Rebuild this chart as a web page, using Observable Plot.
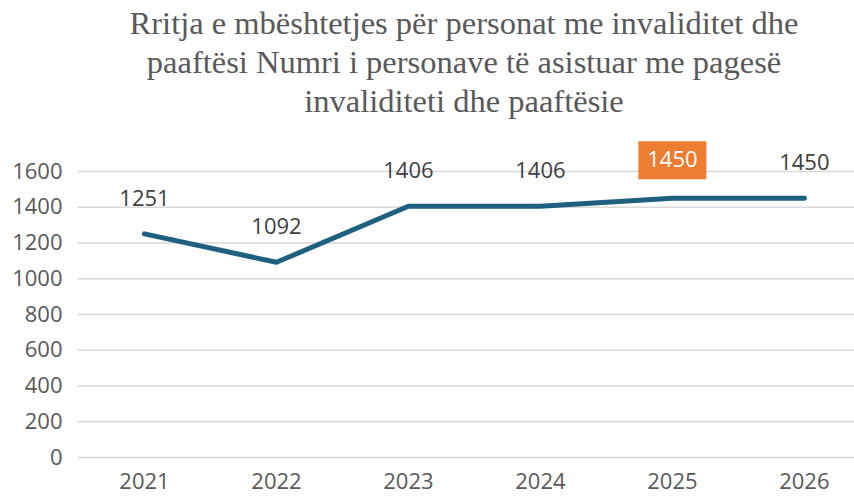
<!DOCTYPE html>
<html><head><meta charset="utf-8">
<script src="https://cdn.jsdelivr.net/npm/d3@7"></script>
<script src="https://cdn.jsdelivr.net/npm/@observablehq/plot@0.6"></script>
<style>
html,body{margin:0;padding:0;background:#fff;}
#title{position:absolute;left:76px;width:776px;top:4px;text-align:center;font-family:"Liberation Serif",serif;font-size:32.5px;line-height:39px;color:#595959;}
#chart{position:absolute;left:0;top:130px;}
</style></head>
<body>
<div id="title">Rritja e mbështetjes për personat me invaliditet dhe<br>paaftësi Numri i personave të asistuar me pagesë<br>invaliditeti dhe paaftësie</div>
<div id="chart"></div>
<script>
const years = [2021, 2022, 2023, 2024, 2025, 2026];
const values = [1251, 1092, 1406, 1406, 1450, 1450];
const yTicks = [0, 200, 400, 600, 800, 1000, 1200, 1400, 1600];
const highlightYear = 2025;

const data = years.map((y, i) => ({year: y, value: values[i]}));
const hl = data.filter(d => d.year === highlightYear);
const normal = data.filter(d => d.year !== highlightYear);
const boxSymbol = {draw(ctx) { ctx.rect(-34, -19, 68, 38); }};

const chart = Plot.plot({
  width: 854, height: 367,
  marginLeft: 78, marginRight: 0, marginTop: 41, marginBottom: 40,
  style: {fontFamily: "'Open Sans', sans-serif", fontSize: "22px", color: "#595959", background: "#fff"},
  x: {type: "linear", domain: [2020.5, 2026.38], label: null},
  y: {domain: [0, 1600], label: null},
  marks: [
    Plot.gridY(yTicks, {stroke: "#d9d9d9", strokeOpacity: 1, strokeWidth: 1.5}),
    Plot.axisX({ticks: years, tickFormat: d => String(d), tickSize: 0, tickPadding: 16, fontSize: 22, fill: "#595959", label: null}),
    Plot.axisY({ticks: yTicks, tickFormat: d => String(d), tickSize: 0, tickPadding: 16, fontSize: 22, fill: "#595959", label: null}),
    Plot.line(data, {x: "year", y: "value", stroke: "#1f5f7f", strokeWidth: 5, strokeLinecap: "round", strokeLinejoin: "round"}),
    Plot.text(normal, {x: "year", y: "value", text: d => String(d.value), dy: -35, fontSize: 22, fill: "#404040"}),
    Plot.dot(hl, {x: "year", y: "value", symbol: boxSymbol, fill: "#ed7d31", stroke: "none", dy: -38}),
    Plot.text(hl, {x: "year", y: "value", text: d => String(d.value), dy: -38, fontSize: 22, fill: "#ffffff"})
  ]
});
document.getElementById("chart").appendChild(chart);
</script>
</body></html>
